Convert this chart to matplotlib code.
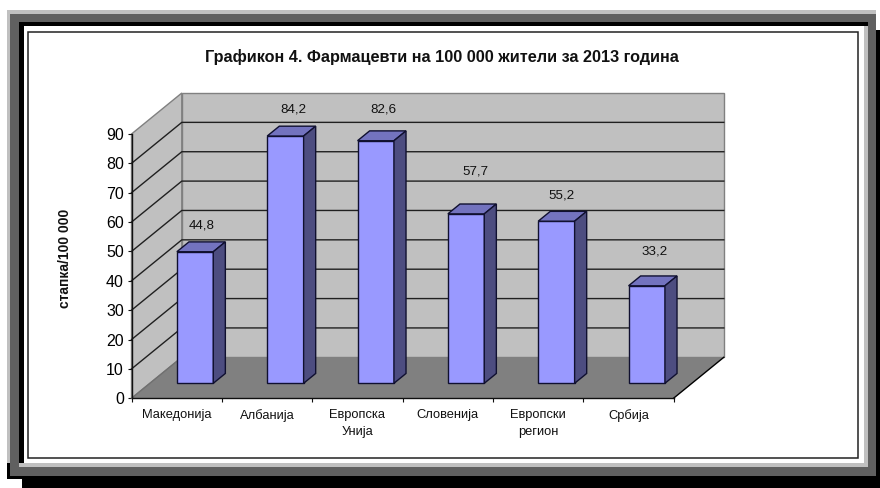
import matplotlib
matplotlib.use('Agg')
import matplotlib.pyplot as plt
from matplotlib.patches import Polygon, Rectangle

categories = ['Македонија', 'Албанија', 'Европска\nУнија', 'Словенија', 'Европски\nрегион', 'Србија']
values = [44.8, 84.2, 82.6, 57.7, 55.2, 33.2]
value_labels = ['44,8', '84,2', '82,6', '57,7', '55,2', '33,2']
y_ticks = [0, 10, 20, 30, 40, 50, 60, 70, 80, 90]

title = 'Графикон 4. Фармацевти на 100 000 жители за 2013 година'
y_label = 'стапка/100 000'

plt.rcParams['font.family'] = ['Liberation Sans', 'DejaVu Sans']

W, H = 880, 488
fig = plt.figure(figsize=(W / 100, H / 100), dpi=100)

# okvir oko grafika, u pikselima
bg = fig.add_axes([0, 0, 1, 1])
bg.set_xlim(0, W)
bg.set_ylim(H, 0)
bg.axis('off')

def box(x0, y0, x1, y1, color):
    bg.add_patch(Rectangle((x0, y0), x1 - x0, y1 - y0, fc=color, ec='none'))

box(7, 463, 10, 479, 'black')
box(10, 476, 880, 479, 'black')
box(22, 476, 880, 488, 'black')
box(876, 30, 880, 488, 'black')
box(7, 10, 876, 14, '#c0c0c0')
box(7, 10, 10, 463, '#c0c0c0')
box(10, 14, 876, 22, '#606060')
box(10, 14, 19, 476, '#606060')
box(10, 467, 876, 476, '#606060')
box(868, 14, 876, 476, '#606060')
box(19, 22, 868, 26, 'black')
box(19, 22, 24, 463, 'black')
box(864, 26, 868, 467, '#c0c0c0')
box(19, 463, 868, 467, '#c0c0c0')
box(27.5, 31.5, 858, 457.5, 'white')
bg.add_patch(Rectangle((27.5, 31.5), 830, 426, fc='none', ec='#222222', lw=1.1))

# glavni grafik
left, right, top, bottom = 131.5, 673.5, 134, 398.3
ax = fig.add_axes([left / W, 1 - bottom / H, (right - left) / W, (bottom - top) / H])
ax.patch.set_visible(False)
ax.set_xlim(0, len(categories))
ax.set_ylim(0, 90)

# dubina 3D prikaza u jedinicama osa
dx = 50.3 / (right - left) * len(categories)
dy = 41 / (bottom - top) * 90
n = len(categories)

ax.add_patch(Polygon([(0, 0), (dx, dy), (dx, 90 + dy), (0, 90)], fc='#c0c0c0', ec='#808080', lw=1, clip_on=False, zorder=1))
ax.add_patch(Polygon([(dx, dy), (n + dx, dy), (n + dx, 90 + dy), (dx, 90 + dy)], fc='#c0c0c0', ec='#808080', lw=1, clip_on=False, zorder=1))
ax.add_patch(Polygon([(0, 0), (n, 0), (n + dx, dy), (dx, dy)], fc='#808080', ec='none', clip_on=False, zorder=1))

for v in y_ticks[1:-1]:
    ax.plot([0, dx, n + dx], [v, v + dy, v + dy], color='#202020', lw=1, clip_on=False, zorder=2)
ax.plot([n, n + dx], [0, dy], color='black', lw=1, clip_on=False, zorder=2)
ax.plot([0, dx], [0, dy], color='#707070', lw=1, clip_on=False, zorder=2)

# stubovi
bar_w = 0.403
f = 0.366
d = 0.24
label_dx = [7, 8, 8, 9, 5, 7.5]
label_py = [225, 110, 110, 172, 195, 252]
px_x = (right - left) / n
px_y = (bottom - top) / 90

for i, val in enumerate(values):
    x0 = i + 0.5 - bar_w / 2 + f * dx
    x1 = x0 + bar_w
    y0 = f * dy
    y1 = y0 + val
    ox, oy = d * dx, d * dy
    ax.add_patch(Polygon([(x0, y0), (x1, y0), (x1, y1), (x0, y1)], fc='#9999ff', ec='#101030', lw=1, clip_on=False, zorder=4))
    ax.add_patch(Polygon([(x0, y1), (x1, y1), (x1 + ox, y1 + oy), (x0 + ox, y1 + oy)], fc='#7373bf', ec='#101030', lw=1, clip_on=False, zorder=4))
    ax.add_patch(Polygon([(x1, y0), (x1 + ox, y0 + oy), (x1 + ox, y1 + oy), (x1, y1)], fc='#4d4d80', ec='#101030', lw=1, clip_on=False, zorder=4))
    ax.text((x0 + x1) / 2 + label_dx[i] / px_x, (bottom - label_py[i]) / px_y, value_labels[i],
            ha='center', va='center', fontsize=9.6, color='#111111', zorder=5, clip_on=False)

for s in ['top', 'right']:
    ax.spines[s].set_visible(False)
for s in ['left', 'bottom']:
    ax.spines[s].set_color('#101010')
    ax.spines[s].set_linewidth(1)
    ax.spines[s].set_zorder(3)

ax.set_yticks(y_ticks)
ax.tick_params(axis='y', labelsize=11.5, length=3, width=0.8, pad=2.5, color='#101010')
ax.set_xticks(range(n + 1))
ax.set_xticklabels([])
ax.set_xticks([i + 0.5 for i in range(n)], minor=True)
ax.set_xticklabels(categories, minor=True, fontsize=9.3, linespacing=1.55, color='#111111')
ax.tick_params(axis='x', which='major', length=3, width=0.8, color='#101010')
ax.tick_params(axis='x', which='minor', length=0, pad=7.5)

bg.text(442, 57, title, ha='center', va='center', fontsize=11.7, fontweight='bold', color='#111111')
bg.text(65, 258, y_label, ha='center', va='center', rotation=90, fontsize=10, fontweight='bold', color='#111111')

fig.savefig('out.png', dpi=100)
